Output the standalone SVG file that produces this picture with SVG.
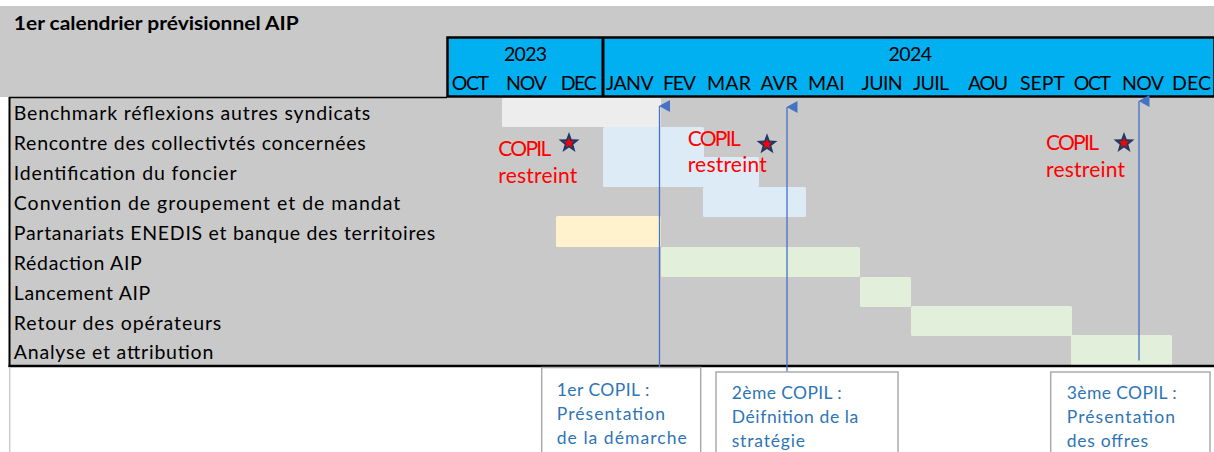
<svg xmlns="http://www.w3.org/2000/svg" width="1214" height="452" viewBox="0 0 1214 452">
<style>
.t{font-family:Lato,"Liberation Sans",sans-serif;fill:#000}
.lbl{font-size:19.5px}
.mon{font-size:19.5px}
.red{font-family:Lato,"Liberation Sans",sans-serif;font-size:21px;fill:#FF0000}
.box{fill:#FFFFFF;stroke:#ABABAB;stroke-width:1.5}
.bt{font-family:Lato,"Liberation Sans",sans-serif;font-size:17.5px;fill:#2E75B6}
.arr{stroke:#4472C4;stroke-width:1.3;fill:none}
</style>
<defs>
<path id="star" d="M0,-11 L2.7,-3.72 L10.46,-3.4 L4.37,1.42 L6.47,8.9 L0,4.6 L-6.47,8.9 L-4.37,1.42 L-10.46,-3.4 L-2.7,-3.72 Z"/>
<g id="st"><use href="#star" fill="#1F3864"/><use href="#star" fill="#FF0000" transform="scale(0.5)"/></g>
<marker id="ah" viewBox="0 0 12 11" refX="6" refY="0.5" markerWidth="12" markerHeight="11" markerUnits="userSpaceOnUse" orient="auto-start-reverse">
<path d="M0,11 L6,0 L12,11 Z" fill="#4472C4"/>
</marker>
</defs>
<rect x="0" y="0" width="1214" height="452" fill="#FFFFFF"/>
<rect x="0" y="6" width="1214" height="91" fill="#C9C9C9"/>
<rect x="9" y="97" width="1205" height="269" fill="#C9C9C9"/>
<text class="t" x="13.8" y="29.5" font-size="18" font-weight="bold" textLength="285" lengthAdjust="spacingAndGlyphs">1er calendrier prévisionnel AIP</text>
<rect x="447.5" y="37.5" width="767" height="59" fill="#00B0F0" stroke="#000" stroke-width="2.5"/>
<line x1="603" y1="37" x2="603" y2="97" stroke="#000" stroke-width="3"/>
<g class="t mon">
<text x="504" y="60.7" textLength="43">2023</text>
<text x="888.6" y="60.7" textLength="43.4">2024</text>
<text x="451.7" y="90" textLength="37.3">OCT</text>
<text x="506" y="90" textLength="41">NOV</text>
<text x="560.7" y="90" textLength="36">DEC</text>
<text x="605.9" y="90" textLength="47.7">JANV</text>
<text x="663" y="90" textLength="33">FEV</text>
<text x="707" y="90" textLength="44">MAR</text>
<text x="760.5" y="90" textLength="37.2">AVR</text>
<text x="808" y="90" textLength="36.7">MAI</text>
<text x="861.6" y="90" textLength="41">JUIN</text>
<text x="913" y="90" textLength="36">JUIL</text>
<text x="968" y="90" textLength="40">AOU</text>
<text x="1020" y="90" textLength="44.8">SEPT</text>
<text x="1073.8" y="90" textLength="37.2">OCT</text>
<text x="1122" y="90" textLength="42">NOV</text>
<text x="1172" y="90" textLength="39">DEC</text>
</g>
<g id="bars">
<rect x="502" y="98" width="159" height="29" rx="1.5" fill="#EDEDED"/>
<rect x="603" y="127" width="101" height="31" rx="1.5" fill="#DDEBF7"/>
<rect x="603" y="157" width="156" height="30" rx="1.5" fill="#DDEBF7"/>
<rect x="703" y="187" width="103" height="30" rx="1.5" fill="#DDEBF7"/>
<rect x="556" y="216" width="105" height="31" rx="1.5" fill="#FFF2CC"/>
<rect x="661" y="247" width="199" height="30" rx="1.5" fill="#E2EFDA"/>
<rect x="860" y="277" width="51" height="30" rx="1.5" fill="#E2EFDA"/>
<rect x="911" y="306" width="161" height="30" rx="1.5" fill="#E2EFDA"/>
<rect x="1071" y="335" width="101" height="31" rx="1.5" fill="#E2EFDA"/>
</g>
<g class="t lbl">
<text x="13.8" y="120" textLength="356.5">Benchmark réflexions autres syndicats</text>
<text x="13.8" y="150" textLength="352">Rencontre des collectivtés concernées</text>
<text x="13.8" y="180" textLength="222.7">Identification du foncier</text>
<text x="13.8" y="210" textLength="386.5">Convention de groupement et de mandat</text>
<text x="13.8" y="239.5" textLength="421.5">Partanariats ENEDIS et banque des territoires</text>
<text x="13.8" y="269.5" textLength="128">Rédaction AIP</text>
<text x="13.8" y="299.5" textLength="136.5">Lancement AIP</text>
<text x="13.8" y="329.5" textLength="207.5">Retour des opérateurs</text>
<text x="13.8" y="359" textLength="199.5">Analyse et attribution</text>
</g>
<line x1="9.5" y1="97" x2="9.5" y2="367" stroke="#000" stroke-width="2"/>
<line x1="9" y1="97.5" x2="447" y2="97.5" stroke="#000" stroke-width="1.5"/>
<line x1="8.5" y1="366" x2="1214" y2="366" stroke="#000" stroke-width="2.5"/>
<line x1="9.7" y1="367" x2="9.7" y2="452" stroke="#C3C3C3" stroke-width="1.2"/>
<g id="copil-restreint">
<text class="red" x="498.3" y="156" textLength="53">COPIL</text>
<text class="red" x="498.3" y="183" textLength="79">restreint</text>
<use href="#st" x="569" y="143"/>
<text class="red" x="687.7" y="146" textLength="53">COPIL</text>
<text class="red" x="687.7" y="172" textLength="79">restreint</text>
<use href="#st" x="767" y="144.3"/>
<text class="red" x="1046" y="150" textLength="53">COPIL</text>
<text class="red" x="1046" y="177" textLength="79">restreint</text>
<use href="#st" x="1124" y="143"/>
</g>
<g id="connectors">
<line class="arr" x1="659.5" y1="368" x2="659.5" y2="106" marker-end="url(#ah)"/>
<line class="arr" x1="787" y1="372" x2="787" y2="107" marker-end="url(#ah)"/>
<line class="arr" x1="1139" y1="360.5" x2="1139" y2="101" marker-end="url(#ah)" stroke="#7A9BD6" stroke-width="1.8"/>
</g>
<g id="copil1">
<rect class="box" x="541.7" y="367.5" width="159" height="100"/>
<text class="bt" x="556.7" y="396" textLength="92.6">1er COPIL :</text>
<text class="bt" x="556.7" y="420" textLength="108.3">Présentation</text>
<text class="bt" x="556.7" y="444" textLength="130">de la démarche</text>
</g>
<g id="copil2">
<rect class="box" x="716" y="372" width="182" height="100"/>
<text class="bt" x="731.7" y="399.3" textLength="110">2ème COPIL :</text>
<text class="bt" x="731.7" y="423.3" textLength="126.6">Déifnition de la</text>
<text class="bt" x="731.7" y="447.3" textLength="73.3">stratégie</text>
</g>
<g id="copil3">
<rect class="box" x="1050.7" y="372" width="159.3" height="100"/>
<text class="bt" x="1066.7" y="399.3" textLength="110">3ème COPIL :</text>
<text class="bt" x="1066.7" y="423.3" textLength="108.3">Présentation</text>
<text class="bt" x="1066.7" y="447.3" textLength="81.3">des offres</text>
</g>
</svg>
